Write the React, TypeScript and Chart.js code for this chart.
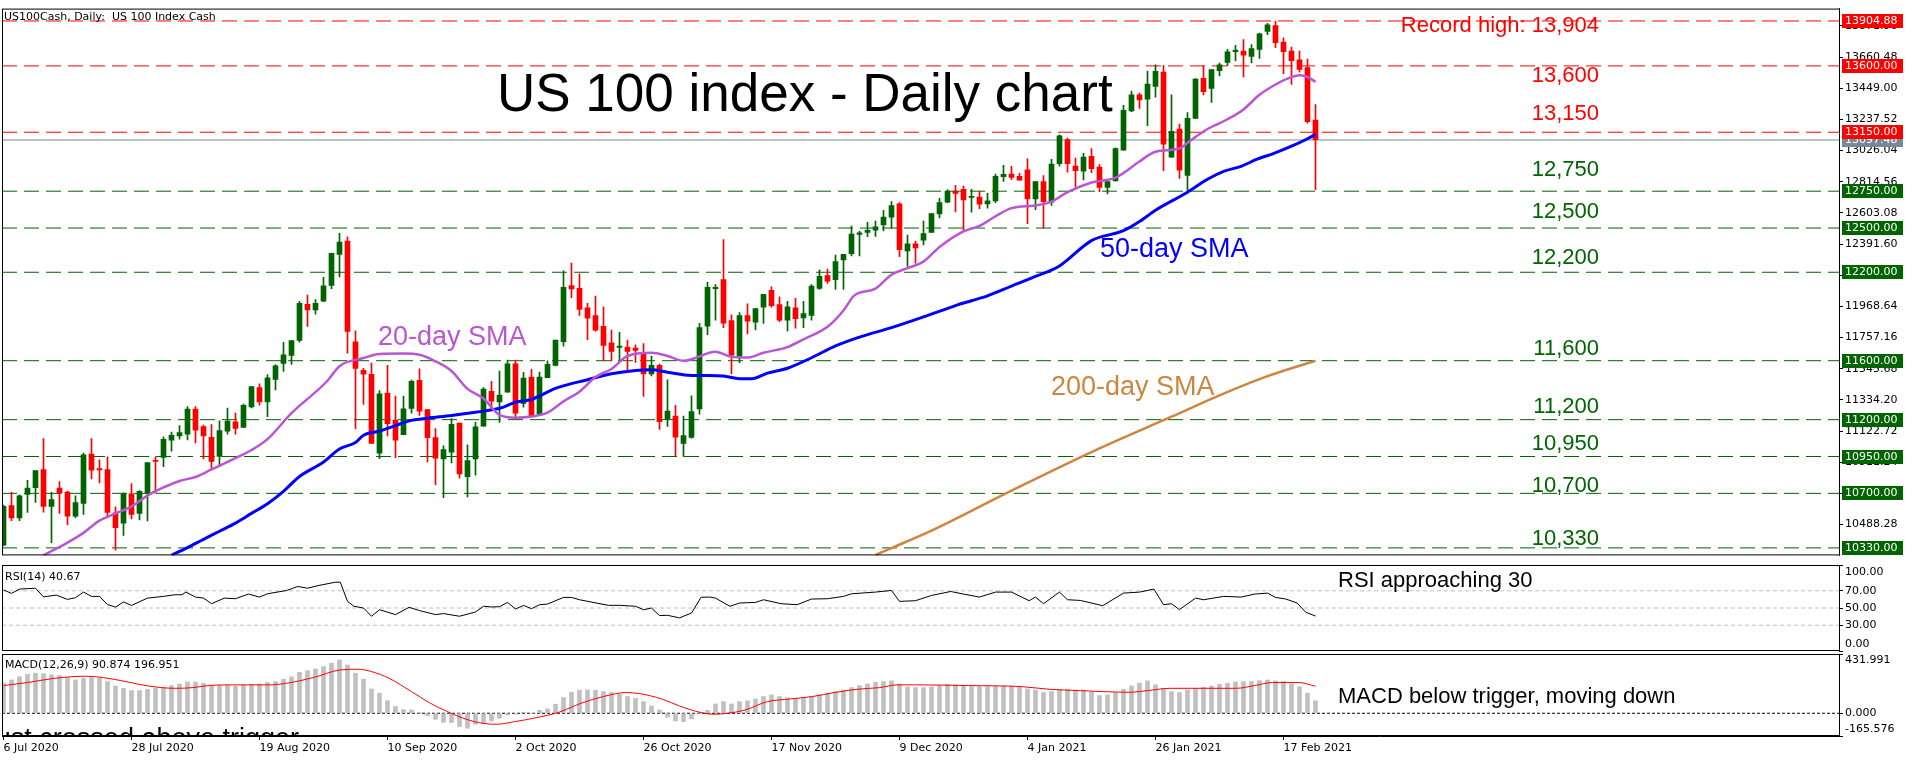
import React, { useEffect, useRef } from 'react';
import { Chart, registerables } from 'chart.js';
Chart.register(...registerables);

// ---------------- DATA ----------------
const OPEN = [10348,10617,10533,10692,10738,10862,10612,10736,10709,10546,
10632,10967,10868,10862,10568,10498,10696,10564,10701,10923,
10943,11060,11089,11102,11272,11153,11080,10950,11122,11186,
11148,11287,11417,11320,11473,11581,11636,11737,11982,11944,
12004,12110,12321,12412,11728,11535,11508,10972,11380,11197,
11098,11277,11466,11268,11078,10933,10979,11177,10814,10933,
11155,11393,11321,11387,11579,11310,11489,11236,11485,11568,
11729,12109,12091,11959,11906,11833,11721,11690,11692,11685,
11650,11511,11568,11203,11225,11039,11079,11273,11835,12089,
12150,11873,11632,11906,11862,11963,12078,11981,11875,11959,
11890,11908,12091,12177,12150,12283,12327,12457,12470,12485,
12521,12574,12664,12344,12393,12417,12470,12596,12675,12750,
12763,12708,12710,12664,12684,12849,12867,12851,12895,12697,
12816,12676,12937,13100,12921,12886,12987,12914,12776,12820,
13029,13294,13404,13375,13461,13558,12981,13172,12857,13243,
13516,13448,13567,13624,13697,13701,13664,13712,13834,13873,
13761,13701,13642,13589,13232];
const HIGH = [10620,10707,10690,10789,10855,11071,10707,10780,10716,10683,
10974,11071,10928,10948,10608,10703,10767,10718,10908,10948,
11084,11115,11159,11289,11289,11164,11166,11192,11278,11245,
11305,11424,11443,11505,11574,11724,11737,12002,12046,12015,
12165,12328,12465,12440,11803,11548,11583,11398,11568,11360,
11360,11468,11545,11268,11140,11023,11208,11177,11030,11182,
11418,11460,11530,11605,11605,11521,11542,11522,11599,11740,
12210,12263,12190,11990,12038,11965,11807,11793,11740,11707,
11716,11632,11577,11471,11297,11225,11361,11853,12131,12117,
12422,11912,11926,11985,11954,12051,12102,12034,12003,12023,
12003,12117,12217,12221,12316,12322,12514,12477,12538,12547,
12620,12679,12673,12452,12411,12547,12598,12702,12761,12790,
12785,12763,12750,12735,12867,12926,12918,12871,12970,12816,
12856,12967,13133,13111,12974,13007,13040,12930,12815,13045,
13333,13430,13415,13565,13607,13602,13404,13205,13283,13514,
13600,13576,13620,13712,13739,13779,13745,13823,13889,13902,
13790,13728,13701,13646,13338];
const LOW = [10345,10515,10515,10571,10639,10573,10366,10564,10487,10535,
10557,10798,10771,10538,10315,10414,10527,10520,10513,10701,
10881,10987,11067,11062,11042,10934,10859,10881,11102,11102,
11148,11280,11298,11221,11402,11528,11574,11726,11832,11916,
12000,12088,12169,11651,11138,11303,11038,10935,11089,10942,
11098,11244,11228,10913,10759,10670,10906,10803,10675,10823,
11155,11261,11182,11387,11215,11284,11220,11229,11485,11564,
11699,12027,11908,11743,11798,11599,11599,11599,11529,11588,
11357,11496,11134,11154,10951,10951,11075,11238,11776,11875,
11824,11511,11586,11782,11809,11853,11963,11864,11802,11820,
11824,11875,12084,12124,12084,12084,12311,12311,12441,12444,
12481,12499,12305,12239,12261,12386,12470,12569,12673,12609,
12481,12607,12631,12635,12673,12816,12829,12825,12530,12624,
12499,12654,12919,12879,12776,12826,12875,12747,12732,12820,
13029,13289,13311,13194,13388,12890,12981,12837,12742,13243,
13404,13353,13532,13602,13635,13525,13620,13651,13812,13723,
13547,13474,13558,13212,12760];
const CLOSE = [10612,10533,10683,10736,10855,10612,10657,10701,10546,10637,
10961,10857,10859,10571,10467,10696,10557,10714,10908,10917,
11067,11093,11113,11272,11128,11089,10917,11126,11190,11141,
11298,11424,11320,11483,11565,11640,11737,11989,11944,11989,
12108,12328,12405,11799,11548,11508,11038,11376,11173,11061,
11274,11460,11257,11078,10939,10997,11169,10831,10922,11151,
11407,11325,11367,11579,11244,11482,11220,11489,11575,11740,
12098,12087,11948,11888,11807,11703,11663,11699,11663,11670,
11511,11568,11187,11258,11081,11092,11255,11824,12098,12098,
11855,11637,11906,11868,11954,12051,11974,11875,11965,11886,
11919,12106,12172,12139,12272,12322,12459,12468,12485,12508,
12574,12653,12353,12393,12366,12463,12598,12673,12750,12735,
12690,12713,12662,12684,12851,12865,12843,12825,12697,12816,
12679,12934,13126,12937,12890,12981,12903,12776,12815,13040,
13298,13404,13369,13477,13563,13069,13157,12892,13245,13510,
13426,13576,13607,13695,13708,13673,13717,13818,13878,13757,
13697,13635,13576,13221,13100];

// moving averages (bar index, value)
const SMA20_X = [5,8,10,12,14,16,18,20,22,24,26,29,31,33,36,40.5,42,45,47,50,52,54,56,58,60,62,64,66,68,70,72,74,76,78,81,83,85,86,89,91,93,95,98,100,103,105,106.3,109,111,113,115,117,120,122,124,126,129,131,133,136,139,142,144,147,148.4,150.5,153,155,157,159,160.5,162,163,164];
const SMA20_Y = [10280,10366,10432,10515,10564,10612,10685,10740,10784,10811,10862,10939,10994,11068,11244,11464,11563,11618,11645,11648,11640,11596,11530,11409,11343,11232,11213,11221,11247,11324,11390,11489,11544,11632,11654,11632,11599,11610,11661,11626,11621,11654,11692,11745,11830,11941,12040,12089,12183,12228,12272,12371,12477,12514,12580,12635,12653,12679,12743,12809,12842,12952,13018,13040,13095,13172,13238,13305,13404,13474,13514,13536,13525,13492];
const SMA50_X = [21,23,25,27,29,31,33,35,37,40,42,44,45,47,49,51,53,56,59,62,64,66,69,73,76,79,81,83,86,88,90,92,93.5,95.5,98,101,104,107,111,115,119,121,123,126,129,132,136,140,142,144,148,150.5,152.6,154.7,156.7,158.8,161.3,163,164];
const SMA50_Y = [10280,10332,10388,10443,10498,10564,10630,10714,10814,10913,11001,11045,11094,11122,11160,11195,11210,11228,11250,11277,11318,11337,11412,11471,11511,11533,11538,11522,11500,11500,11496,11478,11478,11516,11549,11620,11700,11760,11824,11897,11974,12007,12040,12106,12172,12243,12415,12482,12544,12621,12743,12831,12886,12919,12967,13007,13062,13106,13135];
const SMA200_X = [109,111,116,126,137,146,152,158,164];
const SMA200_Y = [10282,10329,10447,10718,11005,11220,11365,11495,11600];

const RSI_X = [0,1,2,4,5,6.6,8,9,10,11,12,13,14,15,16,18,20,21.4,22.3,22.8,24,25,26,27.6,29,30.6,32,33,35.4,36.8,38,39.3,41.5,42.1,43,43.8,45,46,47,49,50.7,52,54,55,57,59,60,61,62,63,64,65,66,67,68,70,71,72,75.6,77,79,80,81,82,83,84.5,86,87.2,88.3,89,90.8,92,94,95,97.2,99.2,101,103,105,106,109,111,112,114,116,118.4,120,122,124,126,128.2,129,130,132,133,134.6,137.4,140,142,143.8,145,146,147,149,150,152.5,154.7,156.4,158,159,160.3,161.7,162.8,164];
const RSI_Y = [71,67,72,73,63,65,60,62,68.5,63.5,63.5,54,51,57,53,61.5,63.5,65.4,65.4,68.5,62.7,61.5,55,61.5,60.8,66.2,62.7,66.5,70.4,75,73,76,80,80,57.7,52,50,40.4,48,42.3,50.8,47,42.3,43.5,40.4,45.4,52,51.2,51.5,56.5,48.8,53,49.2,53.8,54.6,62.3,62.3,59.6,53.1,53.1,52,48,50,41.2,41.5,38.5,44.2,62.5,62.7,61.5,52,55.8,56.5,59.6,55,53.8,60.4,60.8,63.5,66.5,68.5,70.4,57.7,58.5,64.6,69.2,66.2,62.7,68.5,68.5,58.5,62.7,55,68.5,59.6,58.8,52.7,67.3,68.5,72,53.8,55,48.1,61.5,59.6,63.5,62.7,66.2,67.3,62.3,60.4,55.8,45,40.67];

const MACD_HIST = [220,243,267,284,292,289,279,275,260,243,
255,260,255,231,199,182,165,165,175,182,
190,202,214,228,228,219,202,202,202,197,
207,211,214,224,231,248,265,299,311,323,
340,365,389,352,292,248,177,146,92,49,
27,24,2,-17,-44,-66,-68,-97,-109,-80,
-73,-56,-36,-12,-7,7,0,22,32,66,
114,153,168,170,168,158,151,139,122,109,
85,53,24,-29,-56,-61,-41,0,22,68,
85,68,85,90,104,122,134,122,114,109,
114,122,134,146,158,170,187,202,214,226,
231,236,214,192,187,187,192,202,211,207,
202,194,194,194,199,199,199,194,177,170,
151,158,173,175,170,170,158,129,134,151,
175,199,219,236,207,182,158,151,170,182,
190,199,211,219,228,231,231,238,243,236,
231,214,194,146,91];
const SIGNAL_X = [0,3,6.4,10.3,12.5,15.3,18.1,21.4,23.7,25.9,28.7,33.2,35.4,38.7,42.1,44.3,46,48.2,51,53.2,55.5,57.7,59.9,61.6,63.9,66.6,69.4,72.2,75,77.8,79.5,82.3,84.5,87.2,88.8,90.5,92.7,95.5,98.3,101.1,103.9,106.7,109.5,111.7,113.9,120.6,127.3,130.7,134.6,137.4,140.7,143,145.8,148.5,154.1,156.4,158.6,161.9,164];
const SIGNAL_Y = [202,224,255,270,260,231,199,182,187,204,207,207,219,260,316,321,304,255,158,78,12,-41,-73,-80,-61,-32,7,73,122,151,143,104,53,5,-7,0,24,85,104,122,151,175,187,207,207,202,194,175,165,158,153,165,182,182,182,202,224,224,197];

const PRICE_TICKS = [10488.28,10699.76,10911.24,11122.72,11334.20,11545.68,11757.16,11968.64,12180.12,12391.60,12603.08,12814.56,13026.04,13237.52,13449.00,13660.48,13871.96];
const RED_LEVELS = [13904.88, 13600, 13150];
const GREEN_LEVELS = [12750, 12500, 12200, 11600, 11200, 10950, 10700, 10330];
const BID_PRICE = 13097.48;
const LEVEL_TEXTS = ['Record high: 13,904','13,600','13,150','12,750','12,500','12,200','11,600','11,200','10,950','10,700','10,330'];
const RSI_LEVELS = [70, 50, 30];
const RSI_AXIS = [100, 70, 50, 30, 0];
const MACD_AXIS = [431.991, 0, -165.576];
const DATE_IDX = [0,16,32,48,64,80,96,112,128,144,160];
const DATE_LABELS = ['6 Jul 2020','28 Jul 2020','19 Aug 2020','10 Sep 2020','2 Oct 2020','26 Oct 2020','17 Nov 2020','9 Dec 2020','4 Jan 2021','26 Jan 2021','17 Feb 2021'];

// ---------------- LAYOUT / STYLE ----------------
const W = 1916;
const X_MIN = -0.1875;
const X_MAX = 229.4375;
const Y_MIN = 10279.0;
const Y_MAX = 13988.9;
const AXIS_W = 77;
const GREEN = '#006400';
const RED = '#ff0000';
const AXIS_FONT = '11px "DejaVu Sans", Verdana, sans-serif';
const arial = (s: number) => `${s}px "Liberation Sans", Arial, sans-serif`;
const LEVEL_TEXT_Y = [32, 82, 120, 176, 217.5, 264, 354.5, 413, 450, 491.5, 545];
const LEVEL_TEXT_COL = [RED, RED, RED, GREEN, GREEN, GREEN, GREEN, GREEN, GREEN, GREEN, GREEN];

const xScale = (display: boolean) => ({
  type: 'linear', min: X_MIN, max: X_MAX, display, offset: false,
  grid: { offset: false },
});

const hLine = (v: number, color: string, dash: number[], order = 3) => ({
  type: 'line',
  data: [{ x: X_MIN, y: v }, { x: X_MAX, y: v }],
  borderColor: color, borderWidth: 1, borderDash: dash,
  pointRadius: 0, fill: false, order,
});

const pts = (xs: number[], ys: number[]) => xs.map((x, i) => ({ x, y: ys[i] }));

const frame = (ctx: any, a: any) => {
  ctx.strokeStyle = '#000';
  ctx.lineWidth = 1;
  ctx.strokeRect(a.left + 0.5, a.top + 0.5, a.right - a.left, a.bottom - a.top - 1);
};

function buildMain(canvas: HTMLCanvasElement) {
  const n = OPEN.length;
  const idx = Array.from({ length: n }, (_, i) => i);
  const colors = idx.map(i => (CLOSE[i] >= OPEN[i] ? GREEN : RED));
  const plugin = {
    id: 'mainDecor',
    afterDraw(chart: any) {
      const { ctx, chartArea: a, scales } = chart;
      const ys = scales.y;
      ctx.save();
      frame(ctx, a);
      ctx.fillStyle = '#000';
      ctx.font = AXIS_FONT;
      ctx.textAlign = 'left';
      ctx.textBaseline = 'middle';
      ctx.fillText('US100Cash, Daily:  US 100 Index Cash', a.left + 2, a.top + 9);
      ctx.textBaseline = 'alphabetic';
      ctx.font = arial(53);
      ctx.fillText('US 100 index - Daily chart', 497, 111);
      ctx.font = arial(22);
      ctx.textAlign = 'right';
      LEVEL_TEXTS.forEach((t, i) => {
        ctx.fillStyle = LEVEL_TEXT_COL[i];
        ctx.fillText(t, 1599, LEVEL_TEXT_Y[i]);
      });
      ctx.textAlign = 'left';
      ctx.font = arial(27);
      ctx.fillStyle = '#ba55d3';
      ctx.fillText('20-day SMA', 378, 345);
      ctx.fillStyle = '#0000ff';
      ctx.fillText('50-day SMA', 1100, 257);
      ctx.fillStyle = '#cd853f';
      ctx.fillText('200-day SMA', 1051, 395);
      // price boxes on the axis
      ctx.font = AXIS_FONT;
      ctx.textBaseline = 'middle';
      const box = (v: number, col: string) => {
        const py = Math.round(ys.getPixelForValue(v));
        ctx.fillStyle = col;
        ctx.fillRect(a.right + 3, py - 7, 61, 14);
        ctx.fillStyle = '#fff';
        ctx.fillText(v.toFixed(2), a.right + 6, py);
      };
      box(BID_PRICE, '#778899');
      RED_LEVELS.forEach(v => box(v, RED));
      GREEN_LEVELS.forEach(v => box(v, GREEN));
      ctx.restore();
    },
  };
  return new Chart(canvas, {
    type: 'bar',
    data: {
      datasets: [
        { type: 'line', data: pts(SMA20_X, SMA20_Y), borderColor: '#ba55d3', borderWidth: 2.5, pointRadius: 0, cubicInterpolationMode: 'monotone', order: 0 },
        { type: 'line', data: pts(SMA50_X, SMA50_Y), borderColor: '#0000ff', borderWidth: 3, pointRadius: 0, cubicInterpolationMode: 'monotone', order: 0 },
        { type: 'line', data: pts(SMA200_X, SMA200_Y), borderColor: '#cd853f', borderWidth: 2.5, pointRadius: 0, cubicInterpolationMode: 'monotone', order: 0 },
        { type: 'bar', data: idx.map(i => ({ x: i, y: [OPEN[i], CLOSE[i]] })), backgroundColor: colors, borderWidth: 0, barThickness: 5, minBarLength: 1, grouped: false, order: 1 },
        { type: 'bar', data: idx.map(i => ({ x: i, y: [LOW[i], HIGH[i]] })), backgroundColor: colors, borderWidth: 0, barThickness: 1, minBarLength: 1, grouped: false, order: 2 },
        ...RED_LEVELS.map(v => hLine(v, RED, [15, 7])),
        ...GREEN_LEVELS.map(v => hLine(v, GREEN, [15, 7])),
        hLine(BID_PRICE, '#778899', []),
      ] as any,
    },
    options: {
      animation: false,
      responsive: false,
      maintainAspectRatio: false,
      devicePixelRatio: 1,
      layout: { padding: { top: 2, left: 2, right: 0, bottom: 1 } },
      plugins: { legend: { display: false }, tooltip: { enabled: false } },
      scales: {
        x: xScale(false) as any,
        y: {
          type: 'linear', position: 'right', min: Y_MIN, max: Y_MAX, beginAtZero: false,
          afterFit: (s: any) => { s.width = AXIS_W; },
          afterBuildTicks: (s: any) => { s.ticks = PRICE_TICKS.map(v => ({ value: v })); },
          ticks: { autoSkip: false, padding: 2, color: '#000', font: { family: '"DejaVu Sans", Verdana, sans-serif', size: 11 }, callback: (v: any) => Number(v).toFixed(2) },
          grid: { drawOnChartArea: false, drawTicks: true, tickLength: 4, color: '#000' },
          border: { display: true, color: '#000' },
        } as any,
      },
    },
    plugins: [plugin],
  } as any);
}

function buildRsi(canvas: HTMLCanvasElement) {
  const plugin = {
    id: 'rsiDecor',
    afterDraw(chart: any) {
      const { ctx, chartArea: a, scales } = chart;
      ctx.save();
      frame(ctx, a);
      ctx.fillStyle = '#000';
      ctx.font = AXIS_FONT;
      ctx.textAlign = 'left';
      ctx.textBaseline = 'middle';
      ctx.fillText('RSI(14) 40.67', a.left + 3, a.top + 12);
      RSI_AXIS.forEach(v => {
        let py = scales.y.getPixelForValue(v);
        if (v === 100) py = a.top + 7;
        if (v === 0) py = a.bottom - 7;
        ctx.fillText(v.toFixed(2), a.right + 6, py);
      });
      ctx.textBaseline = 'alphabetic';
      ctx.font = arial(22);
      ctx.fillText('RSI approaching 30', 1338, a.top + 22);
      ctx.restore();
    },
  };
  return new Chart(canvas, {
    type: 'line',
    data: {
      datasets: [
        { data: pts(RSI_X, RSI_Y), borderColor: '#000', borderWidth: 1, pointRadius: 0, tension: 0, order: 0 },
        ...RSI_LEVELS.map(v => hLine(v, '#c0c0c0', [4, 3])),
      ] as any,
    },
    options: {
      animation: false,
      responsive: false,
      maintainAspectRatio: false,
      devicePixelRatio: 1,
      layout: { padding: { top: 1, left: 2, right: 0, bottom: 1 } },
      plugins: { legend: { display: false }, tooltip: { enabled: false } },
      scales: {
        x: xScale(false) as any,
        y: {
          type: 'linear', position: 'right', min: 0, max: 100,
          afterFit: (s: any) => { s.width = AXIS_W; },
          afterBuildTicks: (s: any) => { s.ticks = RSI_AXIS.map(v => ({ value: v })); },
          ticks: { display: false },
          grid: { drawOnChartArea: false, drawTicks: true, tickLength: 4, color: '#000' },
          border: { display: true, color: '#000' },
        } as any,
      },
    },
    plugins: [plugin],
  } as any);
}

function buildMacd(canvas: HTMLCanvasElement) {
  const idx = MACD_HIST.map((_, i) => i);
  const plugin = {
    id: 'macdDecor',
    afterDraw(chart: any) {
      const { ctx, chartArea: a, scales } = chart;
      ctx.save();
      frame(ctx, a);
      ctx.fillStyle = '#000';
      ctx.font = AXIS_FONT;
      ctx.textAlign = 'left';
      ctx.textBaseline = 'middle';
      ctx.fillText('MACD(12,26,9) 90.874 196.951', a.left + 3, a.top + 11);
      MACD_AXIS.forEach((v, i) => {
        let py = scales.y.getPixelForValue(v);
        if (i === 0) py = a.top + 6;
        if (i === 2) py = a.bottom - 7;
        ctx.fillText(v.toFixed(3), a.right + 6, py);
      });
      ctx.textBaseline = 'alphabetic';
      ctx.font = arial(22);
      ctx.fillText('MACD below trigger, moving down', 1338, a.top + 49);
      ctx.save();
      ctx.beginPath();
      ctx.rect(a.left + 1, a.top, a.right - a.left - 1, a.bottom - a.top - 1);
      ctx.clip();
      ctx.font = arial(27);
      ctx.textAlign = 'right';
      ctx.fillText('MACD just crossed above trigger', 299, a.top + 93);
      ctx.restore();
      ctx.restore();
    },
  };
  return new Chart(canvas, {
    type: 'bar',
    data: {
      datasets: [
        { type: 'line', data: pts(SIGNAL_X, SIGNAL_Y), borderColor: '#ff0000', borderWidth: 1, pointRadius: 0, cubicInterpolationMode: 'monotone', order: 0 },
        { type: 'bar', data: idx.map(i => ({ x: i, y: MACD_HIST[i] })), backgroundColor: '#c0c0c0', borderWidth: 0, barThickness: 4, grouped: false, order: 1 },
        hLine(0, '#000', [3, 2], 2),
      ] as any,
    },
    options: {
      animation: false,
      responsive: false,
      maintainAspectRatio: false,
      devicePixelRatio: 1,
      layout: { padding: { top: 2, left: 2, right: 0, bottom: 0 } },
      plugins: { legend: { display: false }, tooltip: { enabled: false } },
      scales: {
        x: {
          ...xScale(true),
          afterFit: (s: any) => { s.height = 24; },
          afterBuildTicks: (s: any) => { s.ticks = DATE_IDX.map(v => ({ value: v })); },
          ticks: {
            autoSkip: false, maxRotation: 0, minRotation: 0, align: 'start', padding: 2, color: '#000',
            font: { family: '"DejaVu Sans", Verdana, sans-serif', size: 11 },
            callback: (v: any) => { const k = DATE_IDX.indexOf(Number(v)); return k >= 0 ? DATE_LABELS[k] : ''; },
          },
          grid: { drawOnChartArea: false, drawTicks: true, tickLength: 4, color: '#000', offset: false },
          border: { display: true, color: '#000' },
        } as any,
        y: {
          type: 'linear', position: 'right', min: -165.576, max: 431.991, beginAtZero: false,
          afterFit: (s: any) => { s.width = AXIS_W; },
          afterBuildTicks: (s: any) => { s.ticks = MACD_AXIS.map(v => ({ value: v })); },
          ticks: { display: false },
          grid: { drawOnChartArea: false, drawTicks: true, tickLength: 4, color: '#000' },
          border: { display: true, color: '#000' },
        } as any,
      },
    },
    plugins: [plugin],
  } as any);
}

export default function App() {
  const mainRef = useRef<HTMLCanvasElement>(null);
  const rsiRef = useRef<HTMLCanvasElement>(null);
  const macdRef = useRef<HTMLCanvasElement>(null);
  useEffect(() => {
    document.body.style.margin = '0';
    const charts = [
      buildMain(mainRef.current as HTMLCanvasElement),
      buildRsi(rsiRef.current as HTMLCanvasElement),
      buildMacd(macdRef.current as HTMLCanvasElement),
    ];
    return () => charts.forEach(c => c.destroy());
  }, []);
  const cs = (top: number, h: number) => ({ position: 'absolute' as const, left: 0, top, width: W, height: h, display: 'block' });
  return (
    <div style={{ position: 'relative', width: W, height: 760, overflow: 'hidden', background: '#fff' }}>
      <canvas ref={mainRef} width={W} height={564} style={cs(0, 564)} />
      <canvas ref={rsiRef} width={W} height={88} style={cs(564, 88)} />
      <canvas ref={macdRef} width={W} height={108} style={cs(652, 108)} />
    </div>
  );
}
